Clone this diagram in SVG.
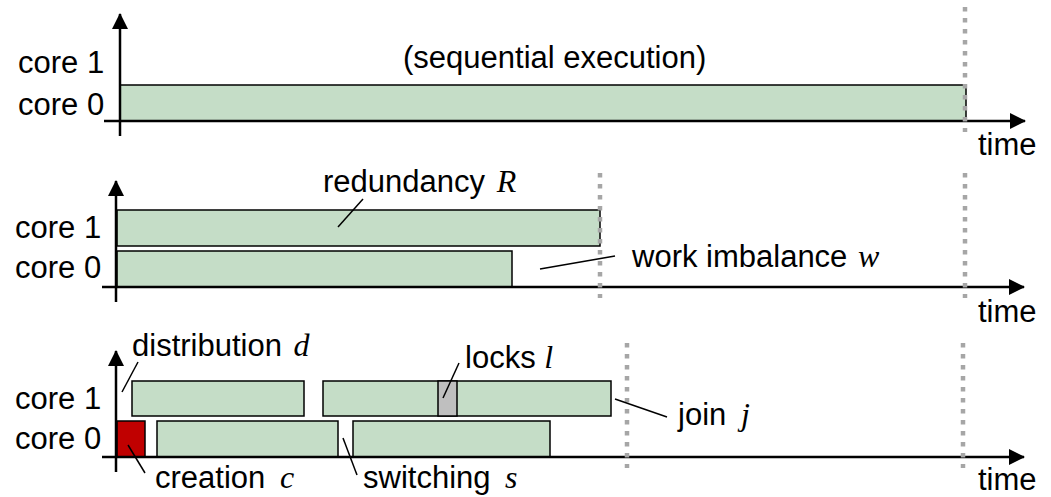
<svg xmlns="http://www.w3.org/2000/svg" width="1051" height="497" viewBox="0 0 1051 497">
  <style>
    .lbl { font-family: "Liberation Sans", Arial, sans-serif; font-size: 31px; fill: #000; }
    .var { font-family: "Liberation Serif", "Times New Roman", serif; font-style: italic; font-size: 32px; }
    .axis { stroke: #000; stroke-width: 2.5; fill: none; }
    .task { fill: #c5ddc7; stroke: #000; stroke-width: 1.5; }
    .create { fill: #c00000; stroke: #000; stroke-width: 1.5; }
    .lock { fill: #bfbfbf; stroke: #000; stroke-width: 1.5; }
    .mark { stroke: #a6a6a6; stroke-width: 4.5; stroke-dasharray: 4.5 6.5; fill: none; }
    .lead { stroke: #000; stroke-width: 1.5; fill: none; }
  </style>
  <defs>
    <marker id="arrow" viewBox="0 0 16 16" refX="15" refY="8" markerWidth="16" markerHeight="16" markerUnits="userSpaceOnUse" orient="auto">
      <path d="M0,0 L16,8 L0,16 Z" fill="#000"/>
    </marker>
  </defs>

  <!-- sequential execution -->
  <g id="panel-sequential">
    <rect class="task" x="120" y="85" width="846" height="36"/>
    <text class="lbl" x="18" y="73">core 1</text>
    <text class="lbl" x="18" y="115">core 0</text>
    <text class="lbl" x="403" y="68">(sequential execution)</text>
    <text class="lbl" x="978" y="155">time</text>
  </g>

  <!-- two cores, redundant work -->
  <g id="panel-redundant">
    <rect class="task" x="117" y="210" width="483" height="36"/>
    <rect class="task" x="117" y="251" width="395" height="36"/>
    <text class="lbl" x="15" y="238">core 1</text>
    <text class="lbl" x="15" y="278">core 0</text>
    <text class="lbl" x="323" y="192">redundancy <tspan dx="3" class="var">R</tspan></text>
    <text class="lbl" x="632" y="267">work imbalance <tspan dx="2" class="var">w</tspan></text>
    <text class="lbl" x="978" y="322">time</text>
  </g>

  <!-- two cores, task overheads -->
  <g id="panel-overheads">
    <rect class="create" x="117" y="421" width="28" height="36"/>
    <rect class="task" x="132" y="381" width="172" height="35"/>
    <rect class="task" x="323" y="381" width="288" height="35"/>
    <rect class="lock" x="438" y="381" width="19" height="35"/>
    <rect class="task" x="157" y="421" width="181" height="36"/>
    <rect class="task" x="353" y="421" width="197" height="36"/>
    <text class="lbl" x="15" y="409">core 1</text>
    <text class="lbl" x="15" y="449">core 0</text>
    <text class="lbl" x="132" y="356">distribution <tspan dx="3" class="var">d</tspan></text>
    <text class="lbl" x="465" y="368">locks <tspan class="var">l</tspan></text>
    <text class="lbl" x="678" y="425">join <tspan dx="6" class="var">j</tspan></text>
    <text class="lbl" x="155" y="488">creation <tspan dx="6" class="var">c</tspan></text>
    <text class="lbl" x="363" y="488">switching <tspan dx="6" class="var">s</tspan></text>
    <text class="lbl" x="978" y="490">time</text>
  </g>

  <g id="connectors">
    <!-- axes -->
    <line class="axis" x1="120" y1="136" x2="120" y2="14" marker-end="url(#arrow)"/>
    <line class="axis" x1="104" y1="121" x2="1025" y2="121" marker-end="url(#arrow)"/>
    <line class="axis" x1="116" y1="302" x2="116" y2="181" marker-end="url(#arrow)"/>
    <line class="axis" x1="102" y1="287" x2="1024" y2="287" marker-end="url(#arrow)"/>
    <line class="axis" x1="116" y1="472" x2="116" y2="351" marker-end="url(#arrow)"/>
    <line class="axis" x1="102" y1="457" x2="1024" y2="457" marker-end="url(#arrow)"/>

    <!-- completion markers -->
    <line class="mark" x1="965" y1="7" x2="965" y2="132"/>
    <line class="mark" x1="600" y1="173" x2="600" y2="298"/>
    <line class="mark" x1="965" y1="173" x2="965" y2="298"/>
    <line class="mark" x1="627" y1="343" x2="627" y2="468"/>
    <line class="mark" x1="963" y1="343" x2="963" y2="468"/>

    <!-- label leaders -->
    <line class="lead" x1="363" y1="199" x2="338" y2="227"/>
    <line class="lead" x1="615" y1="256" x2="540" y2="269"/>
    <line class="lead" x1="138" y1="362" x2="122" y2="392"/>
    <line class="lead" x1="459" y1="363" x2="443" y2="398"/>
    <line class="lead" x1="615" y1="399" x2="667" y2="417"/>
    <line class="lead" x1="128" y1="445" x2="145" y2="473"/>
    <line class="lead" x1="343" y1="438" x2="357" y2="475"/>
  </g>
</svg>
